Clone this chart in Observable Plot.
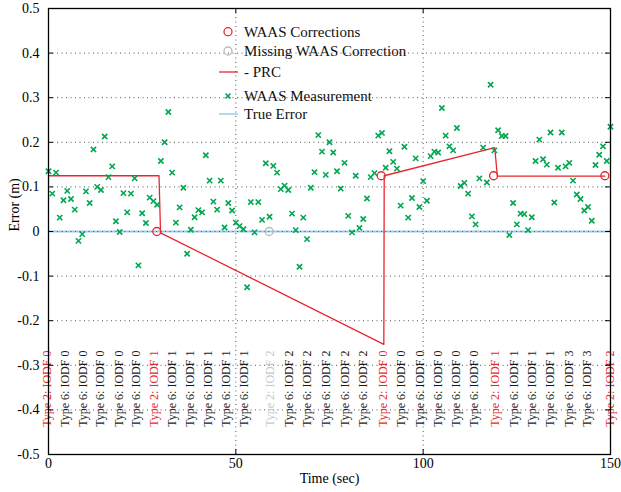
<!DOCTYPE html>
<html><head><meta charset="utf-8">
<script src="https://cdn.jsdelivr.net/npm/d3@7"></script>
<script src="https://cdn.jsdelivr.net/npm/@observablehq/plot@0.6"></script>
<style>
body{margin:0;background:#fff}
#chart{position:relative;width:621px;height:492px}
</style>
</head><body><div id="chart"></div>
<script>
// ---------- data ----------
const measTime = [0,1,2,3,4,5,6,7,8,9,10,11,12,13,14,15,16,17,18,19,20,21,22,23,24,25,26,27,28,29,30,31,32,33,34,35,36,37,38,39,40,41,42,43,44,45,46,47,48,49,50,51,52,53,54,55,56,57,58,59,60,61,62,63,64,65,66,67,68,69,70,71,72,73,74,75,76,77,78,79,80,81,82,83,84,85,86,87,88,89,90,91,92,93,94,95,96,97,98,99,100,101,102,103,104,105,106,107,108,109,110,111,112,113,114,115,116,117,118,119,120,121,122,123,124,125,126,127,128,129,130,131,132,133,134,135,136,137,138,139,140,141,142,143,144,145,146,147,148,149,150];
const measValue = [
 0.135,0.085,0.132,0.031,0.070,0.091,0.073,0.049,-0.021,-0.006,
 0.090,0.064,0.184,0.100,0.093,0.213,0.122,0.146,0.023,-0.001,
 0.086,0.043,0.085,0.119,-0.076,0.041,0.019,0.076,0.068,0.060,
 0.158,0.200,0.268,0.132,0.020,0.054,0.098,-0.050,0.004,0.032,
 0.048,0.043,0.171,0.114,0.067,0.049,0.114,0.009,0.064,0.047,
 0.020,0.012,0.005,-0.125,0.066,-0.002,0.066,0.026,0.153,0.033,
 0.147,0.132,0.095,0.103,0.093,0.040,0.003,-0.079,0.031,-0.017,
 0.098,0.133,0.216,0.179,0.127,0.200,0.177,0.135,0.096,0.154,
 0.035,-0.002,0.125,0.008,0.028,0.074,0.122,0.131,0.215,0.221,
 0.143,0.180,0.156,0.141,0.058,0.190,0.031,0.075,0.164,0.055,
 0.113,0.069,0.169,0.179,0.177,0.277,0.215,0.191,0.182,0.232,
 0.102,0.109,0.085,0.034,0.016,0.119,0.188,0.110,0.329,0.182,
 0.227,0.214,0.214,-0.008,0.064,0.016,0.040,0.039,0.003,0.032,
 0.158,0.206,0.162,0.150,0.222,0.065,0.143,0.222,0.146,0.154,
 0.114,0.083,0.073,0.047,0.055,0.024,0.149,0.172,0.191,0.158,
 0.235];

const prcTime  = [0, 29.5, 29.9, 89.5, 89.6, 119.1, 119.8, 148.5];
const prcValue = [0.125, 0.125, -0.003, -0.253, 0.125, 0.188, 0.124, 0.124];

const corrTime  = [28.9, 88.8, 118.8, 148.5];
const corrValue = [0, 0.125, 0.125, 0.125];
const missingTime  = [58.9];
const missingValue = [0];

const labelTime = [-0.35, 4.35, 9.15, 13.9, 18.8, 23.5, 28.1, 33.0, 37.9, 42.6, 47.4, 52.2,
  59.1, 64.1, 69.0, 74.0, 79.1, 84.0, 89.3, 94.2, 99.1, 103.9, 108.8, 113.5,
  119.3, 124.2, 129.1, 134.0, 138.9, 143.8, 150];
const labelText = [
  "Type 2: IODF 0","Type 6: IODF 0","Type 6: IODF 0","Type 6: IODF 0","Type 6: IODF 0","Type 6: IODF 0",
  "Type 2: IODF 1","Type 6: IODF 1","Type 6: IODF 1","Type 6: IODF 1","Type 6: IODF 1","Type 6: IODF 1",
  "Type 2: IODF 2","Type 6: IODF 2","Type 6: IODF 2","Type 6: IODF 2","Type 6: IODF 2","Type 6: IODF 2",
  "Type 2: IODF 0","Type 6: IODF 0","Type 6: IODF 0","Type 6: IODF 0","Type 6: IODF 0","Type 6: IODF 0",
  "Type 2: IODF 1","Type 6: IODF 1","Type 6: IODF 1","Type 6: IODF 1","Type 6: IODF 3","Type 6: IODF 3",
  "Type 2: IODF 2"];
const labelKind = [
  "t2","t6","t6","t6","t6","t6",
  "t2","t6","t6","t6","t6","t6",
  "miss","t6","t6","t6","t6","t6",
  "t2","t6","t6","t6","t6","t6",
  "t2","t6","t6","t6","t6","t6",
  "t2"];
const labelTop = -0.267;

const xTicks = [0, 50, 100, 150];
const yTicks = [-0.5, -0.4, -0.3, -0.2, -0.1, 0, 0.1, 0.2, 0.3, 0.4, 0.5];
const trueError = [0];

// ---------- styling ----------
const RED = "#e8262e", GRAY = "#c4b4b4", GREEN = "#00a650", BLUE = "#9ccbec";
const FONT = "'Liberation Serif','Times New Roman',serif";
const W = 621, H = 492, mL = 48, mR = 11, mT = 8, mB = 38;
const plotW = W - mL - mR, plotH = H - mT - mB;
const kindColor = {t2: RED, miss: "#c8c8c8", t6: "#1a1a1a"};

const idx = a => a.map((_, i) => i);

const chart = Plot.plot({
  width: W, height: H,
  marginLeft: mL, marginRight: mR, marginTop: mT, marginBottom: mB,
  style: {fontFamily: FONT, fontSize: "14px", color: "#000", background: "#fff", overflow: "visible"},
  x: {domain: [0, 150]},
  y: {domain: [-0.5, 0.5]},
  marks: [
    Plot.ruleY(trueError, {y: d => d, stroke: BLUE, strokeWidth: 2}),
    Plot.gridY(yTicks, {stroke: "#555", strokeOpacity: 1, strokeDasharray: "1,3.5"}),
    Plot.gridX(xTicks, {stroke: "#555", strokeOpacity: 1, strokeDasharray: "1,3.5"}),
    Plot.line(idx(prcTime), {x: i => prcTime[i], y: i => prcValue[i], stroke: RED, strokeWidth: 1.3}),
    Plot.dot(idx(measTime), {x: i => measTime[i], y: i => measValue[i], symbol: "times", r: 2.5, stroke: GREEN, strokeWidth: 1.6}),
    Plot.dot(idx(corrTime), {x: i => corrTime[i], y: i => corrValue[i], r: 4, stroke: RED, strokeWidth: 1.3, fill: "#fff", fillOpacity: 0}),
    Plot.dot(idx(missingTime), {x: i => missingTime[i], y: i => missingValue[i], r: 4, stroke: GRAY, strokeWidth: 1.3}),
    Plot.text(idx(labelTime), {x: i => labelTime[i], y: () => labelTop, text: i => labelText[i],
      fill: i => kindColor[labelKind[i]], rotate: -90, textAnchor: "end", lineAnchor: "middle", fontSize: 12}),
    // inward ticks
    Plot.tickX(xTicks, {x: d => d, insetTop: plotH - 5, stroke: "#000"}),
    Plot.tickX(xTicks, {x: d => d, insetBottom: plotH - 5, stroke: "#000"}),
    Plot.tickY(yTicks, {y: d => d, insetRight: plotW - 5, stroke: "#000"}),
    Plot.tickY(yTicks, {y: d => d, insetLeft: plotW - 5, stroke: "#000"}),
    Plot.frame({stroke: "#000", strokeWidth: 1.3}),
    Plot.axisX(xTicks, {tickSize: 0, tickPadding: 4, label: null, fontSize: 14, tickFormat: d => String(d)}),
    Plot.axisY(yTicks, {tickSize: 0, tickPadding: 9, label: null, fontSize: 14, tickFormat: d => String(d)}),
    Plot.text(["Time (sec)"], {frameAnchor: "bottom", dy: 28, fontSize: 14}),
    Plot.text(["Error (m)"], {frameAnchor: "left", dx: -34, rotate: -90, fontSize: 14})
  ]
});
document.getElementById("chart").appendChild(chart);

// ---------- legend (inside plot, top centre) ----------
const legendItems = [
  {kind: "circle", color: RED, text: "WAAS Corrections", y: 31.7},
  {kind: "circle", color: "#bbbbbb", text: "Missing WAAS Correction", y: 51},
  {kind: "line", color: RED, text: "- PRC", y: 72},
  {kind: "times", color: GREEN, text: "WAAS Measurement", y: 96},
  {kind: "line", color: BLUE, text: "True Error", y: 114}
];
const svg = d3.select(chart);
const lg = svg.append("g").attr("font-family", FONT).attr("font-size", 15).attr("text-anchor", "start");
for (const it of legendItems) {
  if (it.kind === "circle") {
    lg.append("circle").attr("cx", 228).attr("cy", it.y).attr("r", 4)
      .attr("fill", "none").attr("stroke", it.color).attr("stroke-width", 1.3);
  } else if (it.kind === "line") {
    lg.append("line").attr("x1", 219).attr("x2", 238).attr("y1", it.y).attr("y2", it.y)
      .attr("stroke", it.color).attr("stroke-width", it.color === BLUE ? 1.5 : 1.3);
  } else {
    lg.append("path").attr("d", `M${225.5},${it.y - 2.5}L${230.5},${it.y + 2.5}M${225.5},${it.y + 2.5}L${230.5},${it.y - 2.5}`)
      .attr("stroke", it.color).attr("stroke-width", 1.6);
  }
  lg.append("text").attr("x", 244).attr("y", it.y).attr("dy", "0.35em").attr("text-anchor", "start")
    .attr("fill", "#111").text(it.text);
}
</script>
</body></html>
